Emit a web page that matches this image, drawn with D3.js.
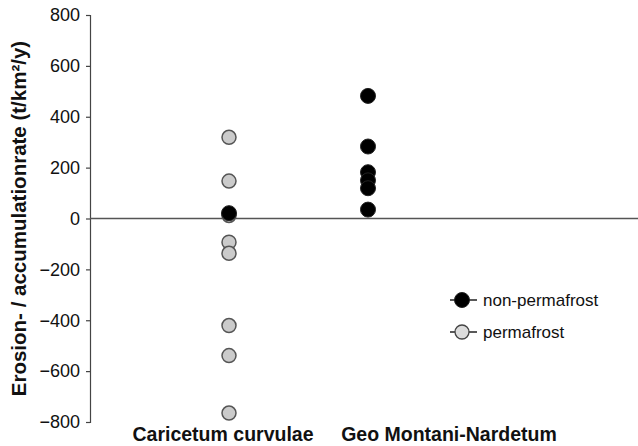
<!DOCTYPE html>
<html>
<head>
<meta charset="utf-8">
<script src="https://cdn.jsdelivr.net/npm/d3@7"></script>
<style>
  html, body { margin: 0; padding: 0; background: #fff; }
  svg { display: block; font-family: "Liberation Sans", Arial, sans-serif; }
</style>
</head>
<body>
<svg id="chart" width="638" height="446"></svg>
<script>
// Vegetation units shown on the x axis
const categories = ["Caricetum curvulae", "Geo Montani-Nardetum"];

// Erosion / accumulation rates (t/km²/y) per site
const permafrostCategory = ["Caricetum curvulae", "Caricetum curvulae", "Caricetum curvulae", "Caricetum curvulae",
                            "Caricetum curvulae", "Caricetum curvulae", "Caricetum curvulae", "Caricetum curvulae"];
const permafrostValues = [319, 147, 12, -93, -137, -421, -539, -765];

const nonPermafrostCategory = ["Caricetum curvulae", "Geo Montani-Nardetum", "Geo Montani-Nardetum",
                               "Geo Montani-Nardetum", "Geo Montani-Nardetum", "Geo Montani-Nardetum",
                               "Geo Montani-Nardetum"];
const nonPermafrostValues = [21, 482, 283, 182, 150, 119, 35];

const yTicks = [800, 600, 400, 200, 0, -200, -400, -600, -800];
const legendLabels = ["non-permafrost", "permafrost"];

const svg = d3.select("#chart");
const W = 638;

const y = d3.scaleLinear().domain([-800, 800]).range([422, 15]);
// dot columns and label columns
const xDot = d3.scalePoint().domain(categories).range([229, 368]);
const xLabel = d3.scalePoint().domain(categories).range([223, 449]);

const axisX = 90;

// y axis
const yAxis = d3.axisLeft(y).tickValues(yTicks).tickSize(4).tickPadding(6).tickFormat(d3.format("d"));
const gy = svg.append("g").attr("transform", `translate(${axisX},0)`).call(yAxis);
gy.select(".domain").attr("stroke", "#444").attr("stroke-width", 1.2);
gy.selectAll(".tick line").attr("stroke", "#444").attr("stroke-width", 1.2);
gy.selectAll(".tick text").attr("font-size", 18).attr("fill", "#111")
  .attr("font-family", "Liberation Sans, Arial, sans-serif");

// zero line
svg.append("line")
  .attr("x1", axisX).attr("x2", W)
  .attr("y1", y(0)).attr("y2", y(0))
  .attr("stroke", "#555").attr("stroke-width", 1.5);

// y axis title
svg.append("text")
  .attr("transform", `translate(26,${(y(800) + y(-800)) / 2}) rotate(-90)`)
  .attr("text-anchor", "middle")
  .attr("font-size", 20.5).attr("font-weight", "bold").attr("fill", "#111")
  .text("Erosion- / accumulationrate (t/km²/y)");

// category labels
svg.append("g").selectAll("text").data(categories).join("text")
  .attr("x", d => xLabel(d)).attr("y", 441)
  .attr("text-anchor", "middle")
  .attr("font-size", 19.5).attr("font-weight", "bold").attr("fill", "#111")
  .text(d => d);

// permafrost points (grey)
svg.append("g").selectAll("circle").data(permafrostValues).join("circle")
  .attr("cx", (d, i) => xDot(permafrostCategory[i]))
  .attr("cy", d => y(d))
  .attr("r", 7)
  .attr("fill", "#cbcbcb").attr("stroke", "#555").attr("stroke-width", 1.5);

// non-permafrost points (black)
svg.append("g").selectAll("circle").data(nonPermafrostValues).join("circle")
  .attr("cx", (d, i) => xDot(nonPermafrostCategory[i]))
  .attr("cy", d => y(d))
  .attr("r", 7.5)
  .attr("fill", "#000").attr("stroke", "#222").attr("stroke-width", 1);

// legend
const legendStyles = [
  { fill: "#000", stroke: "#222", sw: 1, r: 7.5 },
  { fill: "#dcdcdc", stroke: "#444", sw: 1.3, r: 7 }
];
const legend = svg.append("g").selectAll("g").data(legendLabels).join("g")
  .attr("transform", (d, i) => `translate(462,${300 + i * 32})`);
legend.append("line")
  .attr("x1", -12).attr("x2", 15).attr("y1", 0).attr("y2", 0)
  .attr("stroke", "#222").attr("stroke-width", 1.5);
legend.append("circle")
  .attr("r", (d, i) => legendStyles[i].r)
  .attr("fill", (d, i) => legendStyles[i].fill)
  .attr("stroke", (d, i) => legendStyles[i].stroke)
  .attr("stroke-width", (d, i) => legendStyles[i].sw);
legend.append("text")
  .attr("x", 21).attr("y", 6)
  .attr("font-size", 17).attr("fill", "#111")
  .text(d => d);
</script>
</body>
</html>
